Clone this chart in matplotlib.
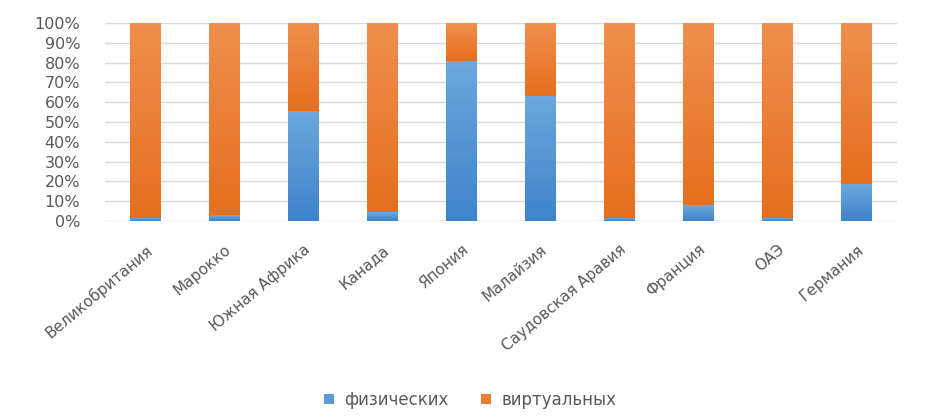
import matplotlib
matplotlib.use("Agg")
import matplotlib.pyplot as plt
import numpy as np
from matplotlib.colors import LinearSegmentedColormap

countries = ["Великобритания", "Марокко", "Южная Африка", "Канада", "Япония",
             "Малайзия", "Саудовская Аравия", "Франция", "ОАЭ", "Германия"]
physical = [1.5, 3.0, 55.5, 4.5, 81.0, 63.0, 1.5, 8.0, 1.5, 18.5]
virtual = [100 - v for v in physical]
series_names = ["физических", "виртуальных"]
yticks = [0, 10, 20, 30, 40, 50, 60, 70, 80, 90, 100]

blue = "#5B9BD5"
orange = "#ED7D31"
blue_grad = LinearSegmentedColormap.from_list("bg", ["#3D84CB", "#6CA7DE"])
orange_grad = LinearSegmentedColormap.from_list("og", ["#E56F1E", "#F08F4E"])

fig = plt.figure(figsize=(9.49, 4.18), dpi=100)
ax = fig.add_axes([105/949, 1 - 221/418, (897-105)/949, (221-23)/418])

x = np.arange(len(countries))
w = 0.39
b1 = ax.bar(x, physical, w, color=blue, label=series_names[0], zorder=2)
b2 = ax.bar(x, virtual, w, bottom=physical, color=orange, label=series_names[1], zorder=2)

grad = np.linspace(0, 1, 64).reshape(-1, 1)
for bars, cmap in ((b1, blue_grad), (b2, orange_grad)):
    for p in bars:
        x0, y0 = p.get_x(), p.get_y()
        ww, hh = p.get_width(), p.get_height()
        if hh <= 0:
            continue
        im = ax.imshow(grad, cmap=cmap, aspect="auto", origin="lower",
                       extent=(x0, x0 + ww, y0, y0 + hh), zorder=3)
        im.set_clip_path(p)

ax.set_xlim(-0.51, len(countries) - 0.49)
ax.set_ylim(0, 100)
ax.set_yticks(yticks)
ax.set_yticklabels([f"{v}%" for v in yticks], fontsize=11.5, color="#595959")
ax.yaxis.grid(True, color="#D9D9D9", linewidth=1, zorder=0)
ax.set_axisbelow(True)
ax.tick_params(axis="y", length=0, pad=18)
ax.tick_params(axis="x", length=0, pad=15)
ax.set_xticks(x)
ax.set_xticklabels(countries, rotation=40, ha="right", rotation_mode="anchor",
                   fontsize=11, color="#595959")
for s in ax.spines.values():
    s.set_visible(False)
ax.axhline(0, color="#D9D9D9", linewidth=1, zorder=1)

leg = fig.legend(handles=[b1, b2], labels=series_names, loc="center",
                 bbox_to_anchor=(470/949, 1 - 400/418), ncol=2, frameon=False,
                 fontsize=12, handlelength=0.6, handleheight=0.6,
                 columnspacing=2.0, handletextpad=0.6)
for t in leg.get_texts():
    t.set_color("#595959")

fig.savefig("out.png", dpi=100)
